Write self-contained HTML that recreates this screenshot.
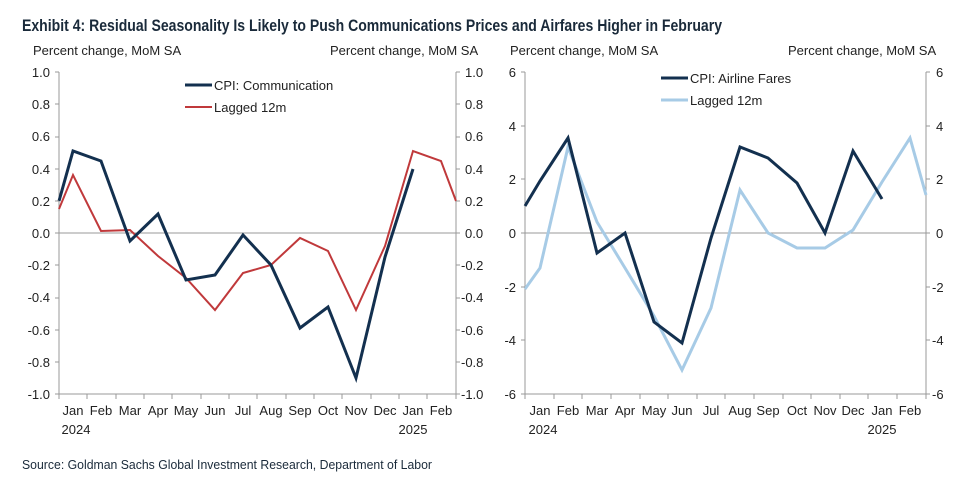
<!DOCTYPE html>
<html><head><meta charset="utf-8"><style>
body{margin:0;background:#fff}
svg{display:block;font-family:"Liberation Sans",Arial,sans-serif}
</style></head><body>
<svg width="971" height="483" viewBox="0 0 971 483">
<text x="22" y="31" font-size="17" font-weight="bold" fill="#1a2a3a" textLength="700" lengthAdjust="spacingAndGlyphs">Exhibit 4: Residual Seasonality Is Likely to Push Communications Prices and Airfares Higher in February</text>
<g font-size="13" fill="#222">
<text x="33" y="55">Percent change, MoM SA</text>
<text x="330" y="55">Percent change, MoM SA</text>
<text x="510" y="55">Percent change, MoM SA</text>
<text x="788" y="55">Percent change, MoM SA</text>
</g>
<!-- Left chart -->
<g stroke="#999" stroke-width="1" fill="none">
<line x1="59" y1="72" x2="59" y2="394"/><line x1="456" y1="72" x2="456" y2="394"/>
<line x1="59" y1="233" x2="456" y2="233"/><line x1="59" y1="394" x2="456" y2="394"/>
<line x1="525" y1="72" x2="525" y2="394"/><line x1="926" y1="72" x2="926" y2="394"/>
<line x1="525" y1="233" x2="926" y2="233"/><line x1="525" y1="394" x2="926" y2="394"/>
</g>
<g stroke="#999" id="ticks"></g>
<g font-size="13" fill="#222" text-anchor="end">
<text x="50" y="77">1.0</text><text x="50" y="109">0.8</text><text x="50" y="141">0.6</text><text x="50" y="174">0.4</text><text x="50" y="206">0.2</text><text x="50" y="238">0.0</text><text x="50" y="270">-0.2</text><text x="50" y="302">-0.4</text><text x="50" y="335">-0.6</text><text x="50" y="367">-0.8</text><text x="50" y="399">-1.0</text>
<text x="516" y="77">6</text><text x="516" y="131">4</text><text x="516" y="184">2</text><text x="516" y="238">0</text><text x="516" y="292">-2</text><text x="516" y="345">-4</text><text x="516" y="399">-6</text>
</g>
<g font-size="13" fill="#222">
<text x="465" y="77">1.0</text><text x="465" y="109">0.8</text><text x="465" y="141">0.6</text><text x="465" y="174">0.4</text><text x="465" y="206">0.2</text><text x="465" y="238">0.0</text><text x="461" y="270">-0.2</text><text x="461" y="302">-0.4</text><text x="461" y="335">-0.6</text><text x="461" y="367">-0.8</text><text x="461" y="399">-1.0</text>
<text x="936" y="77">6</text><text x="936" y="131">4</text><text x="936" y="184">2</text><text x="936" y="238">0</text><text x="932" y="292">-2</text><text x="932" y="345">-4</text><text x="932" y="399">-6</text>
</g>
<g font-size="13" fill="#222" text-anchor="middle">
<text x="73" y="415">Jan</text><text x="101" y="415">Feb</text><text x="130" y="415">Mar</text><text x="158" y="415">Apr</text><text x="186" y="415">May</text><text x="215" y="415">Jun</text><text x="243" y="415">Jul</text><text x="271" y="415">Aug</text><text x="300" y="415">Sep</text><text x="328" y="415">Oct</text><text x="356" y="415">Nov</text><text x="385" y="415">Dec</text><text x="413" y="415">Jan</text><text x="441" y="415">Feb</text>
<text x="76" y="434">2024</text><text x="413" y="434">2025</text>
<text x="540" y="415">Jan</text><text x="568" y="415">Feb</text><text x="597" y="415">Mar</text><text x="625" y="415">Apr</text><text x="654" y="415">May</text><text x="682" y="415">Jun</text><text x="711" y="415">Jul</text><text x="740" y="415">Aug</text><text x="768" y="415">Sep</text><text x="797" y="415">Oct</text><text x="825" y="415">Nov</text><text x="853" y="415">Dec</text><text x="882" y="415">Jan</text><text x="910" y="415">Feb</text>
<text x="543" y="434">2024</text><text x="882" y="434">2025</text>
</g>
<!-- left series -->
<polyline fill="none" stroke="#c0393b" stroke-width="2" points="59,209 73,175 101,231 130,230 158,256 186,278 215,310 243,273 271,265 300,238 328,251 356,310 385,246 413,151 441,161 456,201"/>
<polyline fill="none" stroke="#13304f" stroke-width="3" points="59,201 73,151 101,161 130,241 158,214 186,280 215,275 243,235 271,265 300,328 328,307 356,378 385,257 413,169"/>
<!-- right series: y=233-v*26.83 -->
<polyline fill="none" stroke="#a7cbe6" stroke-width="3" points="525,289 540,268 568,147 597,222 625,268 654,316 682,370 711,308 740,190 768,233 797,248 825,248 853,230 882,182 910,138 926,195"/>
<polyline fill="none" stroke="#13304f" stroke-width="3" points="525,206 540,181 568,138 597,253 625,233 654,322 682,343 711,238 740,147 768,158 797,183 825,233 853,151 882,199"/>
<!-- legends -->
<line x1="185" y1="85" x2="212" y2="85" stroke="#13304f" stroke-width="3"/><text x="214" y="90" font-size="13" fill="#222">CPI: Communication</text>
<line x1="185" y1="107" x2="212" y2="107" stroke="#c0393b" stroke-width="2"/><text x="214" y="112" font-size="13" fill="#222">Lagged 12m</text>
<line x1="661" y1="78" x2="688" y2="78" stroke="#13304f" stroke-width="3"/><text x="690" y="83" font-size="13" fill="#222">CPI: Airline Fares</text>
<line x1="661" y1="100" x2="688" y2="100" stroke="#a7cbe6" stroke-width="3"/><text x="690" y="105" font-size="13" fill="#222">Lagged 12m</text>
<text x="22" y="469" font-size="13" fill="#1a2a3a" textLength="410" lengthAdjust="spacingAndGlyphs">Source: Goldman Sachs Global Investment Research, Department of Labor</text>
<g stroke="#999">
<path d="M55 72h4M55 104h4M55 137h4M55 169h4M55 201h4M55 233h4M55 265h4M55 298h4M55 330h4M55 362h4M55 394h4"/>
<path d="M456 72h4M456 104h4M456 137h4M456 169h4M456 201h4M456 233h4M456 265h4M456 298h4M456 330h4M456 362h4M456 394h4"/>
<path d="M521 72h4M521 126h4M521 179h4M521 233h4M521 287h4M521 340h4M521 394h4"/>
<path d="M926 72h4M926 126h4M926 179h4M926 233h4M926 287h4M926 340h4M926 394h4"/>
<path d="M59 394v5M87 394v5M116 394v5M144 394v5M172 394v5M201 394v5M229 394v5M257 394v5M286 394v5M314 394v5M342 394v5M371 394v5M399 394v5M427 394v5M456 394v5"/>
<path d="M525 394v5M554 394v5M582 394v5M611 394v5M640 394v5M668 394v5M697 394v5M725 394v5M754 394v5M783 394v5M811 394v5M840 394v5M868 394v5M897 394v5M926 394v5"/>
</g>
</svg>
</body></html>
